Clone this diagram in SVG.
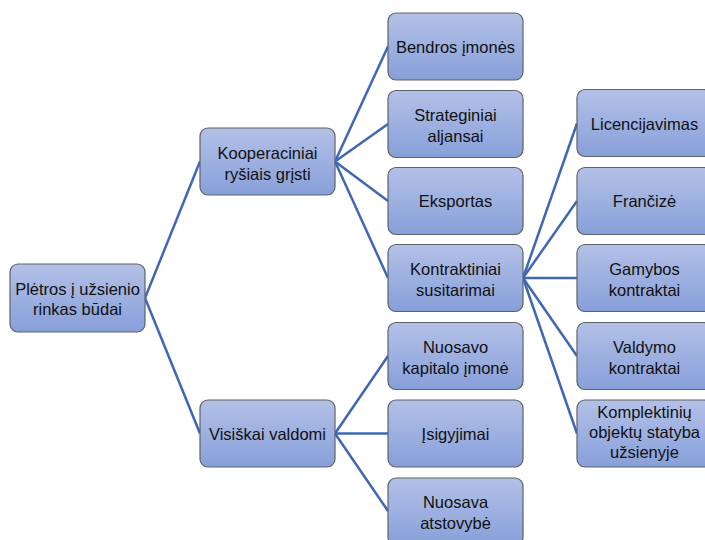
<svg xmlns="http://www.w3.org/2000/svg" width="705" height="540" viewBox="0 0 705 540">
  <defs>
    <linearGradient id="boxFill" x1="0" y1="0" x2="0" y2="1">
      <stop offset="0" stop-color="#b3c1e7"/>
      <stop offset="1" stop-color="#879fd9"/>
    </linearGradient>
  </defs>
  <style>
    .box { fill: url(#boxFill); stroke: #5f6266; stroke-width: 1.2; }
    .lbl { font-family: "Liberation Sans", Arial, sans-serif; font-size: 16.5px; fill: #111; text-anchor: middle; }
    .link { stroke: #3f67b3; stroke-width: 2.5; fill: none; }
  </style>
  <rect width="705" height="540" fill="#ffffff"/>

  <g id="connectors">
    <!-- root to level 1 -->
    <line class="link" x1="145" y1="298" x2="200" y2="161.5"/>
    <line class="link" x1="145" y1="298" x2="200" y2="433.5"/>
    <!-- cooperative links -->
    <line class="link" x1="335" y1="161.5" x2="388" y2="46.5"/>
    <line class="link" x1="335" y1="161.5" x2="388" y2="124"/>
    <line class="link" x1="335" y1="161.5" x2="388" y2="201"/>
    <line class="link" x1="335" y1="161.5" x2="388" y2="278"/>
    <!-- fully owned -->
    <line class="link" x1="335" y1="433.5" x2="388" y2="356"/>
    <line class="link" x1="335" y1="433.5" x2="388" y2="433.5"/>
    <line class="link" x1="335" y1="433.5" x2="388" y2="511"/>
    <!-- contractual -->
    <line class="link" x1="523" y1="278" x2="577" y2="123.5"/>
    <line class="link" x1="523" y1="278" x2="577" y2="201"/>
    <line class="link" x1="523" y1="278" x2="577" y2="278"/>
    <line class="link" x1="523" y1="278" x2="577" y2="356"/>
    <line class="link" x1="523" y1="278" x2="577" y2="433.5"/>
  </g>

  <g id="root">
    <rect class="box" x="10" y="264" width="135" height="68" rx="8"/>
    <text class="lbl" x="77.5" y="295">Plėtros į užsienio</text>
    <text class="lbl" x="77.5" y="315">rinkas būdai</text>
  </g>

  <g id="kooperaciniai">
    <rect class="box" x="200" y="128" width="135" height="67" rx="8"/>
    <text class="lbl" x="267.5" y="159">Kooperaciniai</text>
    <text class="lbl" x="267.5" y="180">ryšiais grįsti</text>
  </g>

  <g id="visiskai">
    <rect class="box" x="200" y="400" width="135" height="67" rx="8"/>
    <text class="lbl" x="267.5" y="439.5">Visiškai valdomi</text>
  </g>

  <g id="bendros">
    <rect class="box" x="388" y="13" width="135" height="67" rx="8"/>
    <text class="lbl" x="455.5" y="52.5">Bendros įmonės</text>
  </g>

  <g id="strateginiai">
    <rect class="box" x="388" y="90.5" width="135" height="67" rx="8"/>
    <text class="lbl" x="455.5" y="121">Strateginiai</text>
    <text class="lbl" x="455.5" y="142">aljansai</text>
  </g>

  <g id="eksportas">
    <rect class="box" x="388" y="167.5" width="135" height="67" rx="8"/>
    <text class="lbl" x="455.5" y="207">Eksportas</text>
  </g>

  <g id="kontraktiniai">
    <rect class="box" x="388" y="244.5" width="135" height="67" rx="8"/>
    <text class="lbl" x="455.5" y="275">Kontraktiniai</text>
    <text class="lbl" x="455.5" y="296">susitarimai</text>
  </g>

  <g id="nuosavo-kapitalo">
    <rect class="box" x="388" y="322.5" width="135" height="67" rx="8"/>
    <text class="lbl" x="455.5" y="353">Nuosavo</text>
    <text class="lbl" x="455.5" y="374">kapitalo įmonė</text>
  </g>

  <g id="isigyjimai">
    <rect class="box" x="388" y="400" width="135" height="67" rx="8"/>
    <text class="lbl" x="455.5" y="439.5">Įsigyjimai</text>
  </g>

  <g id="nuosava-atstovybe">
    <rect class="box" x="388" y="478" width="135" height="67" rx="8"/>
    <text class="lbl" x="455.5" y="508">Nuosava</text>
    <text class="lbl" x="455.5" y="529">atstovybė</text>
  </g>

  <g id="licencijavimas">
    <rect class="box" x="577" y="89.5" width="135" height="67" rx="8"/>
    <text class="lbl" x="644.5" y="129.5">Licencijavimas</text>
  </g>

  <g id="franchize">
    <rect class="box" x="577" y="167.5" width="135" height="67" rx="8"/>
    <text class="lbl" x="644.5" y="207">Frančizė</text>
  </g>

  <g id="gamybos">
    <rect class="box" x="577" y="244.5" width="135" height="67" rx="8"/>
    <text class="lbl" x="644.5" y="275">Gamybos</text>
    <text class="lbl" x="644.5" y="296">kontraktai</text>
  </g>

  <g id="valdymo">
    <rect class="box" x="577" y="322.5" width="135" height="67" rx="8"/>
    <text class="lbl" x="644.5" y="353">Valdymo</text>
    <text class="lbl" x="644.5" y="374">kontraktai</text>
  </g>

  <g id="komplektiniu">
    <rect class="box" x="577" y="400" width="135" height="67" rx="8"/>
    <text class="lbl" x="644.5" y="418">Komplektinių</text>
    <text class="lbl" x="644.5" y="438">objektų statyba</text>
    <text class="lbl" x="644.5" y="458">užsienyje</text>
  </g>
</svg>
